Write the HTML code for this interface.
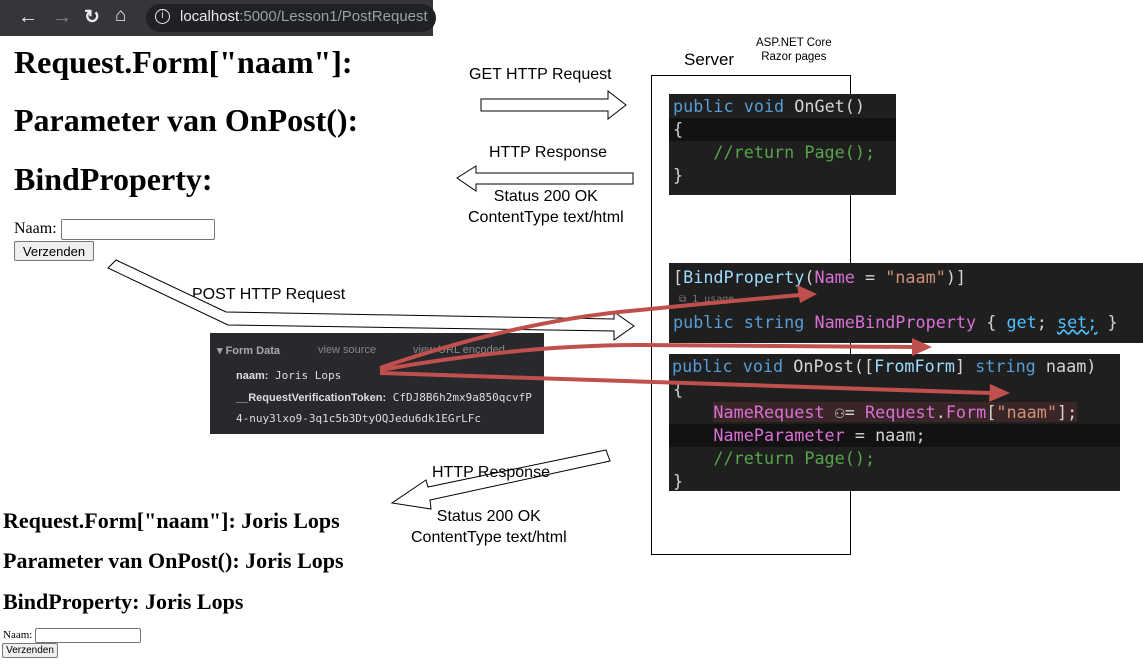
<!DOCTYPE html>
<html><head><meta charset="utf-8"><style>
*{margin:0;padding:0;box-sizing:border-box}
body{width:1143px;height:665px;background:#fff;position:relative;overflow:hidden;font-family:"Liberation Serif",serif}
.a{position:absolute;white-space:nowrap}
.s{font-family:"Liberation Sans",sans-serif}
.m{font-family:"DejaVu Sans Mono","Liberation Mono",monospace}
.code{position:absolute;background:#1f1f1f;font-family:"DejaVu Sans Mono","Liberation Mono",monospace;font-size:16.8px;color:#d4d4d4;overflow:hidden}
.code div{height:23px;line-height:23px;white-space:pre;padding-left:4px}
.k{color:#569cd6}.p{color:#da70d6}.g{color:#57a64a}.t{color:#9cdcfe}.st{color:#ce9178}.c{color:#9cdcfe}.y{color:#d4d4d4}
h1{position:absolute;font-size:32px;font-weight:bold;font-family:"Liberation Serif",serif;white-space:nowrap}
h2{position:absolute;font-size:22px;font-weight:bold;font-family:"Liberation Serif",serif;white-space:nowrap}
input{position:absolute;border:1px solid #767676;border-radius:2px;background:#fff}
button{position:absolute;border:1px solid #767676;background:#efefef;border-radius:2px;font-family:"Liberation Sans",sans-serif}
</style></head><body>
<div class="a" style="left:0;top:0;width:433px;height:36px;background:#35363a"></div>
<div class="a s" style="left:18px;top:6px;color:#e8eaed;font-size:20px">←</div>
<div class="a s" style="left:52px;top:6px;color:#7e8085;font-size:20px">→</div>
<div class="a s" style="left:84px;top:6px;color:#e8eaed;font-size:19px;font-weight:bold">↻</div>
<div class="a s" style="left:115px;top:5px;color:#e8eaed;font-size:19px">⌂</div>
<div class="a" style="left:146px;top:4px;width:290px;height:28px;background:#202124;border-radius:14px"></div>
<div class="a s" style="left:155px;top:9px;color:#e8eaed;border:1.5px solid #e8eaed;border-radius:50%;width:15px;height:15px;line-height:12px;text-align:center;font-size:10px">i</div>
<div class="a s" style="left:180px;top:8px;font-size:15px;color:#9aa0a6"><span style="color:#e8eaed">localhost</span>:5000/Lesson1/PostRequest</div>

<h1 style="left:14px;top:44px">Request.Form["naam"]:</h1>
<h1 style="left:14px;top:102px">Parameter van OnPost():</h1>
<h1 style="left:14px;top:161px">BindProperty:</h1>
<div class="a" style="left:14px;top:220px;font-size:16px">Naam:</div>
<input style="left:61px;top:219px;width:154px;height:21px">
<button style="left:14px;top:241px;width:80px;height:20px;font-size:13px">Verzenden</button>

<h2 style="left:3px;top:508px">Request.Form["naam"]: Joris Lops</h2>
<h2 style="left:3px;top:548px">Parameter van OnPost(): Joris Lops</h2>
<h2 style="left:3px;top:589px">BindProperty: Joris Lops</h2>
<div class="a" style="left:3px;top:629px;font-size:11px">Naam:</div>
<input style="left:35px;top:628px;width:106px;height:15px">
<button style="left:2px;top:643px;width:56px;height:15px;font-size:10px;line-height:11px">Verzenden</button>

<div class="a" style="left:651px;top:75px;width:200px;height:480px;border:1px solid #000"></div>
<div class="a s" style="left:684px;top:50px;font-size:17px">Server</div>
<div class="a s" style="left:756px;top:36px;font-size:11.5px;text-align:center;line-height:14px">ASP.NET Core<br>Razor pages</div>

<div class="a s" style="left:469px;top:66px;font-size:16px">GET HTTP Request</div>
<div class="a s" style="left:489px;top:144px;font-size:16px">HTTP Response</div>
<div class="a s" style="left:468px;top:186px;font-size:16px;text-align:center;line-height:21px">Status 200 OK<br>ContentType text/html</div>
<div class="a s" style="left:192px;top:286px;font-size:16px">POST HTTP Request</div>
<div class="a s" style="left:432px;top:464px;font-size:16px">HTTP Response</div>
<div class="a s" style="left:411px;top:506px;font-size:16px;text-align:center;line-height:21px">Status 200 OK<br>ContentType text/html</div>

<div class="code" style="left:669px;top:94px;width:227px;height:101px;padding-top:1px">
<div><span class="k">public</span> <span class="k">void</span> <span class="y">OnGet</span>()</div>
<div style="background:#121212">{</div>
<div>    <span class="g">//return Page();</span></div>
<div>}</div>
</div>

<div class="code" style="left:669px;top:263px;width:474px;height:80px;padding-top:3px">
<div>[<span class="c">BindProperty</span>(<span class="p">Name</span> = <span class="st">"naam"</span>)]</div>
<div style="height:22px;font-size:10px;color:#777;line-height:22px"> ⧉ 1 usage</div>
<div><span class="k">public</span> <span class="k">string</span> <span class="p">NameBindProperty</span> { <span style="color:#4fc1ff">get</span>; <span style="color:#4fc1ff;text-decoration:underline wavy #4fc1ff">set;</span> }</div>
</div>

<div class="code" style="left:669px;top:354px;width:451px;height:137px;padding-top:1px">
<div style="padding-left:3px"><span class="k">public</span> <span class="k">void</span> <span class="y">OnPost</span>([<span class="c">FromForm</span>] <span class="k">string</span> naam)</div>
<div>{</div>
<div>    <span style="background:#3a2626"><span class="p">NameRequest</span> ⚇= <span class="p">Request</span>.<span class="p">Form</span>[<span class="st">"naam"</span>];</span></div>
<div style="background:#121212">    <span class="p">NameParameter</span> = naam;</div>
<div>    <span class="g">//return Page();</span></div>
<div>}</div>
</div>

<div class="a" style="left:210px;top:333px;width:334px;height:101px;background:#28292c;font-family:'Liberation Sans',sans-serif;font-size:11px;color:#bbb">
<div class="a" style="left:7px;top:11px;font-weight:bold;color:#aaa">▾ Form Data</div>
<div class="a" style="left:108px;top:11px;color:#888">view source</div>
<div class="a" style="left:203px;top:11px;color:#888">view URL encoded</div>
<div class="a m" style="left:26px;top:36px;color:#ddd;font-size:11px"><span class="s" style="font-weight:bold">naam:</span> Joris Lops</div>
<div class="a m" style="left:26px;top:58px;color:#ddd;font-size:11px"><span class="s" style="font-weight:bold">__RequestVerificationToken:</span> CfDJ8B6h2mx9a850qcvfP</div>
<div class="a m" style="left:26px;top:79px;color:#ddd;font-size:11px">4-nuy3lxo9-3q1c5b3DtyOQJedu6dk1EGrLFc</div>
</div>

<svg class="a" style="left:0;top:0" width="1143" height="665">
<g fill="#fff" stroke="#000" stroke-width="1">
<polygon points="481,99 608,99 608,91 626,105 608,119 608,111 481,111"/>
<polygon points="633,173 476,173 476,166 457,178 476,191 476,184 633,184"/>
<polygon points="116,260 226,312 614,319 614,312 634,326 614,340 614,331 228,325 108,268"/>
</g>
<polygon points="606,450 428,487 426,480 392,503 431,509 430,500 610,461" fill="none" stroke="#000" stroke-width="1"/>
<g stroke="#c0504d" stroke-width="4" fill="none">
<path d="M380,368 Q520,320 640,310 Q720,302 800,295"/>
<path d="M380,370 Q520,345 640,345 Q780,346 915,347"/>
<path d="M380,373 Q600,380 990,393"/>
</g>
<g fill="#c0504d">
<polygon points="817,294 797,285 800,303"/>
<polygon points="932,347 912,338 912,356"/>
<polygon points="1010,393 990,384 989,402"/>
</g>
</svg>
</body></html>
